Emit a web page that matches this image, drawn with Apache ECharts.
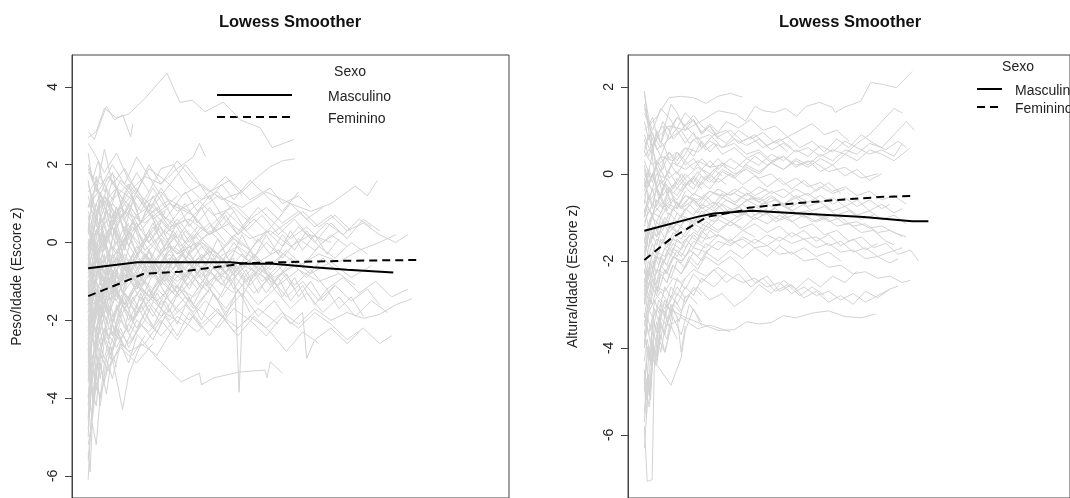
<!DOCTYPE html>
<html><head><meta charset="utf-8">
<script src="https://cdn.jsdelivr.net/npm/echarts@6/dist/echarts.min.js"></script>
<style>html,body{margin:0;padding:0;background:#fff}#c{width:1070px;height:498px}</style>
</head><body><div id="c"></div>
<script>
// ---------- DATA ----------
const chartTitle = 'Lowess Smoother';
const legendTitle = 'Sexo';
const sexos = ['Masculino', 'Feminino'];
const yTicks = [-6, -4, -2, 0, 2, 4];
const yNamePeso = 'Peso/Idade (Escore z)';
const yNameAltura = 'Altura/Idade (Escore z)';

// Lowess curves, [idade, escore z]
const pesoLowessMasc = [[0,-0.66],[12.1,-0.51],[35.1,-0.51],[39.3,-0.55],[45.7,-0.55],[55.6,-0.64],[64,-0.70],[75.4,-0.77]];
const pesoLowessFem = [[0,-1.38],[7.2,-1.08],[13.6,-0.81],[22.7,-0.75],[32.6,-0.62],[39.3,-0.53],[47.5,-0.51],[64,-0.47],[82,-0.45]];
const alturaLowessMasc = [[0,-1.31],[12.9,-0.99],[16.9,-0.91],[26.4,-0.85],[38.1,-0.91],[53.6,-0.99],[65.4,-1.09],[69.4,-1.09]];
const alturaLowessFem = [[0,-1.98],[6.6,-1.48],[15.3,-0.99],[24,-0.84],[25.4,-0.78],[34.1,-0.70],[45.9,-0.61],[58.4,-0.53],[65.2,-0.51]];

// Individual trajectories (flattened idade, escore pairs)
const pesoTrajetorias = [
[0,2.7,2,2.85,4,3.45,7,3.2,10,3.3,14,3.7,19.5,4.35,22.7,3.6,25.7,3.66,28.9,3.36,33.4,3.61,37.6,3.15,42.5,2.95,45.5,2.44,50.7,2.64],
[0,2.85,1.5,2.65,4.5,3.5,6.5,3.15,8.5,3.28,10.5,2.72,11,3.05],
[0,2.55,2,2.2,4,1.8,7,2.3,10,1.6,13,1.2,17,0.8,21,0.5],
[0,1.8,3,1.5,6,1.75,10,1.3,14,1.7,18,1.5,22,1.9,26,2.2,27.5,2.55,29,2.2],
[0,0.6,3,0.9,7,1.4,11,1.1,15,1.9,19,1.6,23,1.2,28,1.5,33,1.1,38,1.3,42,1.7,45,1.95,48,2.1,51,2.15],
[0,-0.3,4,0.2,9,0.8,14,0.5,20,1.0,26,0.7,32,1.2,38,0.9,44,1.3,50,1.0,55,0.8,60,1.0,66,1.45,69,1.2,71.5,1.6],
[0,1.3,3,1.7,6,1.1,10,1.5,14,1.0,18,1.3,22,0.8,27,1.1,31,0.7,36,0.9,40,0.5],
[0,2.0,2,1.4,5,0.9,8,1.6,12,1.2,16,0.6,20,0.9],
[0,-1.0,3,-0.2,6,0.5,9,1.2,12,1.8,15,1.3,18,1.9,21,2.0,24,1.5,28,1.1,32,1.3,36,0.8],
[0,0.2,2,1.0,5,1.7,8,1.2,12,0.7,16,1.0,20,0.4,25,0.6,30,0.2,35,0.5,40,0.1,45,0.3,50,-0.1,55,0.2,60,0.0],
[0,1.0,3,0.4,7,0.8,11,0.3,15,0.7,20,1.1,25,0.8,30,1.3,35,1.6,40,1.1,45,1.4,48,1.0,52,1.2,55,0.9],
[0,-2.0,2,-0.8,5,0.2,8,0.9,12,0.4,16,0.8,20,0.3,24,0.6,28,0.1,33,0.4,38,-0.1],
[0,-0.5,3,0.0,6,-0.4,10,0.3,14,-0.2,18,0.2,22,-0.3,27,0.0,32,-0.4,37,-0.1,42,-0.5,47,-0.2,52,-0.6,57,-0.3,62,-0.5,67,-0.2,72,0.0,76,0.2],
[0,-1.5,2,-0.9,5,-0.3,9,-0.7,13,-0.2,17,-0.6,21,-0.1,26,-0.5,31,-0.2,36,-0.7,41,-0.4,46,-0.9,51,-0.6],
[0,-3.0,2,-1.8,4,-0.9,7,-0.4,10,-0.8,14,-0.3,18,-0.7,22,-1.0,27,-0.6,32,-0.9,37,-0.5,42,-0.8,47,-1.1,52,-0.7,57,-1.0,62,-0.8,66,-1.1],
[0,-4.5,1,-3.0,3,-2.0,6,-1.4,9,-1.7,13,-1.2,17,-1.5,21,-1.1,26,-1.4,31,-0.9,36,-1.3],
[0,-5.6,1,-4.2,2.5,-2.8,5,-2.2,8,-2.5,11,-1.9,15,-2.3,19,-1.8,23,-2.1],
[0,-6.1,0.5,-5.0,1.5,-3.6,3,-2.9,5,-3.3,8,-2.6,11,-2.9,14,-2.4],
[0,-5.2,1,-4.65,2,-5.2,3,-3.9,5,-3.2,8,-2.7,12,-3.1,16,-2.6],
[0,-3.8,2,-3.2,4,-2.4,6,-3.0,8.5,-4.3,10,-3.4,13,-2.6,17,-2.9,21,-2.2],
[0,-3.5,2,-2.6,4,-3.1,7,-2.2,10,-2.6,14,-2.0,18,-2.4,22,-1.9,27,-2.3,32,-1.8,37,-2.2,42,-1.7,47,-2.1],
[0,-2.2,3,-2.6,6,-2.3,10,-2.8,14,-2.6,17,-2.98,23,-3.58,27.5,-3.36,28,-3.66,31,-3.48,37.5,-3.33,43.7,-3.28,44.2,-3.48,45,-3.07,48,-3.36],
[0,-1.2,4,-0.6,8,-1.0,12,-0.5,16,-0.9,20,-0.4,24,-0.8,28,-0.3,32,-0.7,36,-0.4,37.3,-3.85,38.5,-0.9,42,-0.5,46,-1.0,50,-0.6],
[0,-2.5,2,-1.6,5,-1.0,8,-1.4,12,-0.8,16,-1.2,20,-0.7,25,-1.1,30,-0.6,35,-1.0,40,-0.5,45,-0.9,50,-0.4,55,-0.8,60,-0.5,65,-0.9,70,-0.6],
[0,0.0,3,-0.6,6,-0.1,10,-0.5,14,0.1,18,-0.3,22,0.2,26,-0.2,30,0.3,34,-0.1,38,0.4,42,0.0,46,0.5,50,0.1,54,0.4,58,0.0,62,0.3],
[0,0.8,2,0.2,5,0.6,8,-0.1,11,0.4,15,-0.2,19,0.3,23,-0.1,27,0.4],
[0,-0.8,2,0.3,4,0.9,7,0.4,10,1.0,13,0.5,17,0.9,21,0.4,25,0.8,29,0.3,33,0.7,37,0.2,41,0.6,45,0.2,49,0.5,53,0.8,57,0.4,61,0.7,65,0.3],
[0,-1.8,1,-1.0,3,-0.4,6,-0.9,9,-0.3,12,-0.8,15,-0.2,19,-0.7,23,-0.3,27,-0.8,31,-0.4,35,-0.9,39,-0.5,43,-1.0,47,-0.6,51,-1.1,55,-0.7,59,-1.2,63,-0.9,67,-1.3,71,-1.0,75,-1.4,79,-1.2],
[0,-2.8,1,-1.5,3,-1.9,6,-1.2,9,-1.6,12,-1.1,16,-1.5,20,-1.9,24,-1.4,28,-1.8,32,-2.2,36,-1.7,40,-2.0,44,-2.4,48,-1.9,52,-2.2,56,-1.8,60,-2.1,64,-2.5,68,-2.2,72,-2.6,75,-2.4],
[0,-1.0,4,-1.6,8,-1.2,12,-1.8,16,-1.4,20,-2.0,24,-1.6,28,-2.1,32,-1.7,36,-2.3,40,-1.9,44,-2.2,48,-1.8,52,-2.1,56,-1.7,60,-2.0,64,-1.8,68,-1.95,72,-1.85,76,-1.6,80,-1.45],
[0,-2.0,2,-2.8,4,-2.2,7,-2.7,10,-2.1,14,-2.6,18,-2.0,22,-2.5,26,-1.9,30,-2.4,34,-1.8],
[0,-4.0,1,-2.5,3,-1.2,6,-0.6,9,-1.0,12,-0.4,16,-0.8,20,-0.3,24,-0.7],
[0,-3.2,1.5,-2.0,3,-1.4,6,-1.9,9,-1.3,13,-1.8,17,-1.2,21,-1.6,25,-2.0,29,-1.5,33,-1.9,37,-2.4,41,-1.9,45,-2.3,49,-2.8,53,-2.3,57,-2.6],
[0,-1.4,3,-0.8,6,-1.3,9,-0.7,13,-1.1,17,-0.6,21,-1.0,25,-0.5,29,-0.9,33,-0.4,37,-0.8,41,-0.3,45,-0.7,49,-0.2,53,-0.6,57,-0.1,61,-0.4,65,0.0,69,-0.3],
[0,0.4,2,-0.3,5,0.3,8,-0.2,11,0.5,14,0.0,18,0.6,22,0.1,26,0.7,30,0.2,34,0.8,38,0.4,42,0.9,46,0.5,50,1.0,54,0.6,58,0.9],
[0,-0.2,2,0.6,4,1.2,7,0.7,10,1.3,13,0.8,16,1.4,19,0.9,22,1.2],
[0,1.5,2,0.8,4,1.2,7,0.5,10,0.9,13,0.3,16,0.7,19,0.2,22,0.6,26,0.1,30,0.5,34,0.0],
[0,-0.6,2,-1.3,4,-0.7,7,-1.2,10,-0.6,13,-1.1,16,-0.5,20,-1.0,24,-0.4,28,-0.9,32,-0.3,36,-0.8,40,-0.2,44,-0.7,48,-0.3],
[0,-2.3,1,-1.2,3,-0.5,5,-1.0,8,-0.4,11,-0.9,14,-0.3,17,-0.8,20,-0.2,24,-0.7,28,-0.1,32,-0.6,36,-0.2,40,-0.5,44,0.0,48,-0.4,52,0.1,56,-0.2,60,0.2,64,-0.1],
[0,-1.1,2,-0.4,4,0.2,7,-0.3,10,0.3,13,-0.2,16,0.4,19,-0.1,22,0.5,25,0.0,28,0.4],
[0,-3.6,1,-2.3,3,-1.6,5,-2.1,8,-1.5,11,-2.0,14,-1.4,18,-1.9,22,-1.3,26,-1.8,30,-1.2,34,-1.7,38,-1.1,42,-1.6,46,-1.2,50,-1.7,54,-1.3,58,-1.8,62,-1.4,66,-1.9,70,-1.5,74,-1.8],
[0,-4.8,0.8,-3.8,2,-2.6,4,-1.9,6,-2.4,9,-1.7,12,-2.2,15,-1.6,18,-2.1],
[0,-2.6,1,-3.4,2.5,-2.4,4,-3.0,6,-2.1,9,-2.7,12,-2.0],
[0,-1.7,2,-2.3,4,-1.5,6,-2.0,9,-1.3,12,-1.9,15,-1.2,18,-1.7,21,-1.0,25,-1.5,29,-0.9,33,-1.4,37,-0.8,41,-1.3,45,-0.9,49,-1.4,53,-1.0,57,-1.5,61,-1.1,65,-1.5,69,-1.2,72,-1.6],
[0,0.1,1.5,-0.7,3,-0.1,5,-0.8,7,-0.2,9,-0.9,12,-0.3,15,-0.8,18,-0.2,21,-0.7,24,-0.1,27,-0.6,30,-0.2,33,-0.7,36,-0.3],
[0,0.9,2,1.5,4,0.9,6,1.6,9,1.0,12,1.4,15,0.8,18,1.2,21,0.6,24,1.0,27,0.5,30,0.9,33,0.4,36,0.8,39,0.3,43,0.7,47,0.2,51,0.6,55,0.1,59,0.5,63,0.2,67,0.6,70,0.4],
[0,-0.4,1,-1.3,2.5,-0.6,4,-1.5,6,-0.8,8,-1.6,10,-0.9,13,-1.5,16,-0.8,19,-1.3,22,-0.7,25,-1.2,28,-0.6],
[0,-1.9,2,-1.2,4,-1.8,6,-1.1,9,-1.6,12,-1.0,15,-1.4,18,-0.8,22,-1.3,26,-0.7,30,-1.2,34,-0.6,38,-1.1,42,-0.6,46,-1.0,50,-0.5,54,-0.9,58,-0.4,62,-0.8],
[0,-5.0,0.5,-4.0,1,-3.2,2,-2.2,3.5,-1.5,5,-1.9,7,-1.3,9,-1.7,12,-1.1,15,-1.5,18,-1.0,22,-1.4,26,-0.9,30,-1.3],
[0,-3.3,1,-2.9,2,-3.8,3,-3.1,4.5,-3.9,6,-2.8,8,-2.2,10,-2.7,13,-2.1,16,-2.5,19,-1.9,22,-2.4,25,-1.8,28,-2.2],
[0,-2.1,3,-1.4,6,-0.6,9,0.1,12,-0.4,15,0.2,18,-0.3,21,0.3,24,-0.2,27,0.2],
[0,-0.9,2,-0.1,4,0.5,6,-0.2,9,0.4,12,-0.3,15,0.3,18,-0.2,21,0.2,24,-0.4,28,0.1,32,-0.3,36,0.2,40,-0.2,44,0.3,48,-0.1,52,0.4,56,0.0,60,0.5,64,0.1,68,0.6,72,0.3],
[0,1.2,1.5,0.5,3,1.1,5,0.4,7,0.9,9,0.2,12,0.7,15,0.0,18,0.5],
[0,-1.3,1.5,-2.0,3,-1.2,5,-1.8,7,-1.0,10,-1.5,13,-0.9,16,-1.4,19,-0.8,22,-1.3,25,-0.7,28,-1.2,31,-0.6,34,-1.1,37,-0.5,40,-1.0,43,-0.6,46,-1.2,49,-0.8,52,-1.4,55,-1.0,58,-1.5,61,-1.1],
[0,-2.7,1,-3.8,2,-4.2,3,-3.0,4,-2.2,6,-2.8,8,-2.0,11,-2.5,14,-1.8,17,-2.3,20,-1.7],
[0,-0.1,3,0.5,6,1.0,9,0.6,12,1.2,15,0.8,18,1.4,21,0.9,24,1.3,27,0.8,30,1.2,33,0.7,36,1.0,40,0.6,44,0.9,48,0.5,52,0.8,56,0.4,60,0.7,64,0.3,68,0.5,72,0.2,76,0.0,79,0.2],
[0,-3.9,1,-4.5,2,-3.3,3,-4.2,4.5,-3.0,6,-3.5,8,-2.6,10,-3.1,12,-2.4],
[0,-1.6,1.5,-0.8,3,-1.5,5,-0.7,7,-1.3,9,-0.6,12,-1.2,15,-0.5,18,-1.1,21,-0.4,24,-1.0,27,-0.5,30,-1.1,33,-0.6,36,-1.2,39,-0.7,42,-1.3,45,-0.8,48,-1.4,51,-0.9,54,-1.5],
[0,0.5,1.5,-0.2,3,0.7,5,0.1,7,0.9,9,0.3,11,1.1,13,0.5,16,1.2,19,0.6,22,1.0,25,0.4,28,0.9,31,0.3,34,0.7,37,0.2,40,0.6],
[0,-2.4,1,-1.7,2,-2.6,3.5,-1.8,5,-2.5,7,-1.6,9,-2.2,11,-1.4,14,-2.0,17,-1.3,20,-1.8,23,-1.1,26,-1.6,29,-1.0,32,-1.5,35,-0.9,38,-1.4,41,-0.8,44,-1.3,47,-0.9,50,-1.5,53,-1.1,56,-1.6,59,-1.2,62,-1.7,65,-1.4,68,-1.9],
[0,-1.2,3,-1.8,6,-1.1,10,-1.7,14,-1.0,18,-1.6,22,-1.1,26,-1.7,30,-1.2,34,-1.8,38,-1.3,42,-1.9,46,-1.5,50,-2.1,53,-1.8,54,-2.98,56,-2.5,60,-2.2,64,-2.6,67,-2.3],
[0,-0.7,1,0.2,2,-0.5,3.5,0.4,5,-0.3,7,0.5,9,-0.2,11,0.6,13,-0.1,16,0.5,19,-0.2,22,0.3],
[0,-4.2,0.5,-3.5,1.5,-4.0,2.5,-3.0,4,-3.6,5.5,-2.7,7,-3.2],
[0,-5.4,0.5,-5.9,1,-4.6,2,-3.6,3,-4.0,4,-3.1],
[0,-1.0,1,-2.1,2,-1.4,3,-2.3,4.5,-1.6,6,-2.4,8,-1.7,10,-2.3,13,-1.6,16,-2.2,19,-1.5,22,-2.1,25,-1.4,28,-2.0,31,-1.3,34,-1.9,37,-1.2,40,-1.8],
[0,0.3,1,1.1,2,0.4,3,1.3,5,0.6,7,1.4,9,0.7,11,1.2,13,0.5,15,1.0,17,0.3,19,0.8],
[0,2.3,1,1.6,2.5,2.1,4,1.3,6,1.8,8,1.0,10,1.5,12,0.8,15,1.3],
[0,-0.3,1,-1.0,2,-0.2,3,-1.1,4,-0.3,5.5,-1.2,7,-0.4,9,-1.0,11,-0.3,13,-0.9,15,-0.2,17,-0.8,20,-0.1,23,-0.7,26,0.0,29,-0.6,32,0.1,35,-0.5,38,0.2,41,-0.4,44,0.2,47,-0.3,50,0.3,53,-0.2,56,0.2,59,-0.3,62,0.1],
[0,-0.2,1,0.5,2,-0.3,3,0.6,4,-0.1,6,0.7,8,0.0,10,0.5],
[0,0.7,1,-0.1,2,0.8,3,0.0,4.5,0.9,6,0.1,8,0.6,10,-0.1,12,0.4,14,-0.2],
[0,-1.5,0.8,-0.6,1.6,-1.4,2.5,-0.5,3.5,-1.3,5,-0.4,6.5,-1.1,8,-0.3,10,-0.9],
[0,-2.9,0.8,-2.1,1.6,-2.8,2.5,-1.9,3.5,-2.6,5,-1.7,6.5,-2.3,8,-1.5],
[0,-3.4,1,-2.4,2,-3.0,3,-1.9,4,-2.5,5.5,-1.6,7,-2.2,9,-1.4,11,-2.0,13,-1.3,15,-1.8],
[0,-1.8,1,-0.9,2,0.0,3,-0.8,4,0.2,5.5,-0.6,7,0.3,9,-0.5,11,0.2],
[0,1.6,1,0.9,2,1.7,3,0.7,4.5,1.4,6,0.4,8,1.0,10,0.2],
[0,-4.6,0.6,-3.4,1.2,-4.1,2,-2.9,3,-3.5,4,-2.5,5.5,-3.0,7,-2.2,9,-2.7],
[0,-2.2,0.7,-1.3,1.5,-2.0,2.3,-1.1,3.2,-1.8,4.2,-0.9,5.5,-1.5,7,-0.7,8.5,-1.3,10,-0.6,12,-1.1],
[0,0.0,0.8,-0.9,1.6,0.1,2.5,-0.7,3.5,0.3,5,-0.5,6.5,0.4,8,-0.4,10,0.3,12,-0.3],
[0,0.9,3,1.4,6,2.0,9,1.5,12,2.2,15,1.7,18,1.2,21,1.6,24,2.0,27,1.6,30,1.1,33,1.5,36,1.1,40,1.6,44,1.2,48,0.8,52,1.3],
[0,1.9,2,1.3,4,2.4,6,1.5,9,1.9,12,1.3,15,2.0,18,1.5,22,2.1,26,1.6,30,1.3,34,1.7,38,1.2],
[0,-0.9,2,-0.5,4,-0.8,7,-0.4,10,-0.6,13,-0.2,16,-0.5,20,-0.1,24,-0.4,28,0.0,32,-0.3,36,0.1,40,-0.2],
[0,-1.3,2,-0.6,4,-1.0,6,-0.3,9,-0.7,12,-0.1,15,-0.5,18,0.1,22,-0.3,26,0.2,30,-0.2],
[0,-2.0,1.5,-1.3,3,-1.7,5,-0.9,7,-1.4,10,-0.8,13,-1.2,16,-0.6,19,-1.0,22,-0.5,26,-0.9,30,-0.4,34,-0.8,38,-0.3,42,-0.7],
[0,-0.4,2,0.3,4,-0.2,6,0.4,9,-0.1,12,0.5,15,0.0,18,0.4,21,-0.2,24,0.3,27,-0.1],
[0,-2.6,1,-1.9,2,-2.3,3.5,-1.5,5,-1.9,7,-1.2,9,-1.6,12,-1.0,15,-1.4,18,-0.9,21,-1.3,24,-0.8,27,-1.2,30,-0.7,33,-1.1,36,-0.6,39,-1.0,42,-0.7,45,-1.1,48,-0.8,51,-1.2],
[0,-3.1,1,-2.2,2,-1.5,3.5,-1.9,5,-1.1,7,-1.5,9,-0.8,12,-1.2,15,-0.6,18,-1.0,21,-0.5,24,-0.9,27,-0.4],
[0,0.3,2,-0.4,4,0.1,6,-0.6,9,-0.1,12,-0.7,15,-0.2,18,-0.8,21,-0.3,24,-0.9,28,-0.4,32,-1.0,36,-0.5,40,-1.1,44,-0.6],
[0,-1.6,2,-1.0,4,-1.4,6,-0.7,9,-1.1,12,-0.5,15,-0.9,18,-0.3,21,-0.7,24,-0.2,27,-0.6,30,-0.1,33,-0.5,36,0.0,39,-0.4,42,0.1,45,-0.3,48,0.2,51,-0.2,54,0.3,57,-0.1],
[0,-0.6,1,0.4,2,1.0,3.5,0.5,5,1.1,7,0.6,9,1.0,12,0.4,15,0.8,18,0.2,21,0.6,24,0.0],
[0,-1.1,1,-1.9,2,-1.3,3,-2.0,4.5,-1.4,6,-2.1,8,-1.5,10,-2.0,13,-1.4,16,-1.9,19,-1.3,22,-1.8],
[0,-0.1,1,-0.8,2,-0.2,3.5,-1.0,5,-0.4,7,-1.1,9,-0.5,12,-1.0,15,-0.4,18,-0.9,21,-0.3],
[0,-2.3,0.7,-1.6,1.4,-2.1,2.2,-1.3,3,-1.8,4,-1.0,5.5,-1.5,7,-0.8,8.5,-1.3,10,-0.7]
];

const alturaTrajetorias = [
[0,0.4,3,0.8,6,1.1,10,1.0,14.6,1.25,18,1.45,22.4,1.37,24.7,1.21,27.1,1.55,29,1.45,31.8,1.41,34.5,1.5,37.2,1.32,39.5,1.55,42.8,1.64,45.9,1.53,46.6,1.41,48.9,1.53,52.9,1.67,55.3,2.1,58.4,2.05,61.6,1.98,65.4,2.35],
[0,1.0,3,1.3,6,1.75,9,1.78,12,1.75,15,1.62,18,1.78,21,1.85,24,1.76],
[0,1.87,1,1.3,2,0.6,3,0.1,4.5,-0.5,6,-0.3,8,-0.8,10,-0.4],
[0,1.4,2,0.9,4,0.6,6,0.8,9,1.0,12,1.35,14,1.1,17,0.9,20,1.0,23,0.7,26,0.85,29,0.6,32,0.75,35,0.5],
[0,0.5,2,0.2,4,0.4,6,0.9,8,1.3,10,1.1,13,0.8,16,0.9,19,0.6,22,0.7,25,0.45,28,0.55,31,0.3,34,0.4,37,0.2,41,0.3,45,0.05,49,0.15,53,-0.1,57,0.0],
[0,-0.5,2,0.0,4,0.4,7,0.3,10,0.6,13,0.5,16,0.75,19,0.6,22,0.8,25,0.65,28,0.8,31,0.55,34,0.7,37,0.5,40,0.6,43,0.4,46,0.55,49,0.45,52,0.7,55,0.9,58,1.2,61,1.5,63,1.4],
[0,0.0,2,-0.4,4,-0.2,7,-0.45,10,-0.1,13,0.15,16,0.0,19,0.25,22,0.1,25,0.35,28,0.2,31,0.45,34,0.3,37,0.55,40,0.4,43,0.65,46,0.5,49,0.75,52,0.6,55,0.45,58,0.55,61,0.4,63,0.7],
[0,-1.0,1.5,-0.5,3,0.0,5,-0.1,7,0.25,10,0.1,13,0.3,16,0.15,19,0.2,22,0.0,25,0.1,28,-0.1,31,0.0,34,-0.25,37,-0.1,40,-0.3,43,-0.2,46,-0.4,49,-0.3,52,-0.5,55,-0.4,58,-0.6,61,-0.5,64,-0.7],
[0,-1.5,1.5,-1.0,3,-1.1,5,-0.7,7,-0.85,10,-0.5,13,-0.65,16,-0.4,19,-0.55,22,-0.35,25,-0.5,28,-0.3,31,-0.45,34,-0.35,37,-0.55,40,-0.45,43,-0.65,46,-0.55,49,-0.75,52,-0.6,55,-0.85,58,-0.7,61,-0.9,63,-0.8],
[0,-2.0,1,-1.4,2,-0.9,4,-1.0,6,-0.7,8,-0.8,10,-0.5,13,-0.6,16,-0.4,19,-0.5,22,-0.45,25,-0.6,28,-0.55,31,-0.75,34,-0.7,37,-0.9,40,-0.85,43,-1.0,46,-0.95,49,-1.15,52,-1.1,55,-1.25,58,-1.2,61,-1.35,64,-1.45],
[0,-2.5,1,-2.0,2,-2.2,3,-1.8,5,-1.9,7,-1.5,9,-1.6,12,-1.35,15,-1.5,18,-1.4,21,-1.6,24,-1.5,27,-1.7,30,-1.65,33,-1.85,36,-1.8,39,-2.0,42,-1.95,45,-2.15,48,-2.1,51,-2.3,54,-2.25,57,-2.4,60,-2.35,63,-2.5,65,-2.45],
[0,-3.0,1,-2.5,2,-2.6,3,-2.2,5,-2.3,7,-1.9,9,-2.0,12,-1.7,15,-1.8,18,-1.55,21,-1.65,24,-1.45,27,-1.6,30,-1.4,33,-1.55,36,-1.35,39,-1.5,42,-1.45,45,-1.65,48,-1.55,51,-1.8,54,-1.7,57,-1.9,60,-1.8,63,-1.7],
[0,-3.5,1,-2.9,2,-3.0,3,-2.6,5,-2.7,7,-2.4,9,-2.5,12,-2.2,15,-2.35,18,-2.15,21,-2.35,24,-2.5,27,-2.4,30,-2.6,33,-2.5,36,-2.75,39,-2.6,42,-2.8,45,-2.7,48,-2.9,51,-2.75,54,-2.95,57,-2.8,60,-2.65],
[0,-2.2,3,-2.8,6,-3.1,10,-3.3,14,-3.45,18,-3.6,22,-3.58,25,-3.4,28,-3.45,31,-3.42,34,-3.26,37,-3.31,41,-3.2,45,-3.15,49,-3.28,53,-3.31,56.5,-3.22],
[0,-2.9,2,-3.3,4,-3.0,6,-3.5,9,-3.3,13,-3.56,16,-3.48,21,-3.63],
[0,-4.0,0.7,-3.5,1.5,-3.9,2.5,-3.1,3.5,-3.4,5,-2.9,6.5,-3.15,8,-2.75,10,-2.95,12,-2.6,14,-2.8],
[0,-4.5,0.5,-5.2,1,-4.2,2,-3.6,3,-3.9,4,-3.3,5.5,-3.5,7,-3.0,9,-3.2],
[0,-5.8,0.7,-7.07,1.9,-7.03,2.4,-4.5,3.5,-3.8,5,-4.1,7,-3.3,9,-3.7,11,-3.0,14,-3.4],
[0,-3.8,1.5,-4.2,3.5,-4.45,6.5,-4.86,9,-4.22,10,-3.6,12,-3.1,14,-3.5],
[0,-5.7,0.5,-5.0,1.2,-5.36,2,-4.4,3,-3.7,4,-4.1,5.5,-3.3],
[0,-4.8,0.8,-4.0,1.6,-4.4,2.5,-3.4,3.5,-2.9,5,-3.1,6.5,-2.6,8,-2.8,10,-2.4],
[0,-3.2,1,-3.7,2,-3.3,3,-3.6,4,-3.1,5,-3.3,6.5,-2.8,8,-3.0,10,-2.6,12,-2.8,14,-2.4,17,-2.6,20,-2.3],
[0,-2.8,1,-2.2,2,-2.4,3,-1.9,4.5,-2.1,6,-1.7,8,-1.9,10,-1.5,12,-1.7,14,-1.3,16,-1.5],
[0,-1.8,1,-1.3,2,-1.5,3,-1.1,4.5,-1.3,6,-0.9,8,-1.1,10,-0.8,12,-0.95,14,-0.7,17,-0.85,20,-0.6,23,-0.75,26,-0.55,29,-0.7,32,-0.6,35,-0.8,38,-0.65,41,-0.85,44,-0.75,47,-0.95,50,-0.85,53,-1.05,56,-0.95],
[0,-1.2,1,-0.8,2,-1.0,3,-0.6,4.5,-0.8,6,-0.4,8,-0.6,10,-0.3,12,-0.5,14,-0.2,16,-0.35,18,-0.1,20,-0.25],
[0,-0.3,1,0.1,2,-0.1,3,0.3,4.5,0.1,6,0.5,8,0.3,10,0.6,12,0.4,14,0.75,16,0.5,18,0.7],
[0,0.8,1,0.4,2,0.6,3,0.2,4.5,0.3,6,-0.1,8,0.05,10,-0.25,12,-0.1,14,-0.35],
[0,-0.8,1,-1.2,2,-0.95,3,-1.3,4.5,-1.1,6,-1.35,8,-1.15,10,-1.3,12,-1.05,15,-1.2,18,-0.95,21,-1.1,24,-0.9,27,-1.05,30,-0.9,33,-1.05,36,-0.85,39,-1.0,42,-0.9,45,-1.1,48,-1.0,51,-1.2,54,-1.15,57,-1.35,60,-1.3,63,-1.44],
[0,-2.2,1,-2.6,2,-2.2,3,-2.5,4,-2.1,5.5,-2.3,7,-1.9,9,-2.05,11,-1.75,13,-1.9,15,-1.6,18,-1.75,21,-1.5,24,-1.7,27,-1.5,30,-1.65,33,-1.45,36,-1.6,39,-1.5,42,-1.7,45,-1.6,48,-1.8,51,-1.75,54,-1.95,57,-1.9,60,-2.05,62,-1.95],
[0,-3.9,0.8,-3.3,1.6,-3.6,2.5,-2.9,3.5,-3.2,5,-2.6,6.5,-2.85,8,-2.4,10,-2.65,12,-2.3,14,-2.5,17,-2.2,20,-2.5,23,-2.3,26,-2.6,29,-2.4,32,-2.7,35,-2.55,38,-2.8,41,-2.6,44,-2.8],
[0,-6.3,0.5,-5.6,1,-4.8,1.5,-5.2,2,-4.0,3,-3.4,4,-3.8,5.5,-3.0,7,-3.3],
[0,-5.0,0.5,-4.3,1,-4.9,1.8,-3.8,2.6,-4.4,3.5,-3.3,5,-3.7,6.5,-3.0,8,-3.3,9,-4.1,10,-3.5],
[0,-2.6,1.5,-2.0,3,-1.5,4.5,-1.6,6,-1.2,8,-1.35,10,-1.0,12,-1.15,14,-0.85,16,-1.0,19,-0.7,22,-0.85,25,-0.6,28,-0.75,31,-0.55,34,-0.7,37,-0.5,40,-0.65,43,-0.5,46,-0.7,49,-0.55,52,-0.75,55,-0.6,58,-0.8,60,-0.7],
[0,0.2,1,-0.2,2,0.0,3,-0.35,4,-0.15,5.5,-0.45,7,-0.25,9,-0.4,11,-0.15,13,-0.3,15,-0.05,17,-0.2,19,0.05,22,-0.1,25,0.15,28,0.0,31,0.25,34,0.1,37,0.35,40,0.2,43,0.45,46,0.3,49,0.55,52,0.45,55,0.7,58,0.6,61,0.9,64,1.2,66,1.0],
[0,1.2,1,0.8,2,0.95,3,0.55,4.5,0.7,6,0.35,8,0.5,10,0.2,12,0.35,14,0.1,16,0.3,18,0.1,21,0.35,24,0.15,27,0.4,30,0.2,33,0.4],
[0,1.6,1,1.1,2,1.3,3,0.9,4.5,1.1,6,0.8,8,1.05,10,1.4,12,1.2,14,0.95,16,1.15,18,0.95,20,1.2,23,1.05,26,1.25,29,1.0,32,1.1,35,0.85,38,1.0,41,1.15,44,0.9,47,1.0,50,0.75],
[0,-0.6,2,-0.95,4,-0.7,6,-0.95,8,-0.65,10,-0.85,12,-0.6,14,-0.8,17,-0.65,20,-0.9,23,-0.75,26,-1.0,29,-0.85,32,-1.1,35,-1.0,38,-1.25,41,-1.15,44,-1.4,47,-1.3,50,-1.55,53,-1.45,56,-1.7,59,-1.6,62,-1.85,65,-1.75,67,-2.0],
[0,-1.5,1,-1.9,2,-1.6,3,-1.85,4,-1.5,5.5,-1.7,7,-1.35,9,-1.5,11,-1.2,13,-1.35,15,-1.1,18,-1.3,21,-1.1,24,-1.3,27,-1.15,30,-1.35,33,-1.2,36,-1.45,39,-1.3,42,-1.55,45,-1.4,48,-1.65,51,-1.5,54,-1.75,57,-1.6],
[0,-2.0,1,-2.4,2,-2.0,3,-2.3,4,-1.9,5.5,-2.1,7,-1.7,9,-1.9,11,-1.55],
[0,-1.0,1,-0.5,2,-0.8,3,-0.3,4,-0.55,5.5,-0.1,7,-0.35,9,0.0,11,-0.25,13,0.05,15,-0.15,17,0.1,19,-0.05],
[0,0.5,1,0.9,2,0.6,3,1.0,4,0.7,5.5,1.1,7,0.8,9,1.0,11,0.7,13,0.85,15,0.55,17,0.7,19,0.45,22,0.6,25,0.35,28,0.5,31,0.25,34,0.4,37,0.15,40,0.3,43,0.05,46,0.2,49,-0.05,52,0.1,55,-0.15,58,0.0],
[0,-0.1,1,-0.6,2,-0.35,3,-0.75,4,-0.5,5.5,-0.85,7,-0.6,9,-0.8,11,-0.55,13,-0.75,15,-0.5,17,-0.7,19,-0.45,22,-0.65,25,-0.45,28,-0.65,31,-0.5,34,-0.7,37,-0.55,40,-0.75,43,-0.65,46,-0.85,49,-0.75,52,-0.95,55,-0.85,58,-1.05,61,-0.95,64,-1.15],
[0,-3.3,0.8,-2.8,1.6,-3.0,2.5,-2.5,3.5,-2.7,5,-2.2,6.5,-2.4,8,-2.0,10,-2.15,12,-1.8,14,-2.0,16,-1.7],
[0,-4.3,0.7,-3.8,1.4,-4.2,2.2,-3.4,3.2,-3.7,4.5,-3.1,6,-3.35,7.5,-2.9,9,-3.15,11,-2.8,13,-3.0],
[0,-3.6,1,-4.3,2,-3.9,3,-4.4,4,-3.7,5,-4.1,6.5,-3.5,8,-3.8],
[0,-2.4,1,-2.8,2,-2.4,3,-2.7,4,-2.3,5.5,-2.5,7,-2.1,9,-2.3,11,-2.0,13,-2.2,15,-1.9,18,-2.1,21,-1.9,24,-2.15,27,-2.5,30,-2.35,33,-2.7,36,-2.55,39,-2.85,42,-2.7,45,-2.95,48,-2.8,51,-3.0,54,-2.7,57,-2.85,60,-2.65,62,-2.58],
[0,-1.6,1.5,-1.1,3,-0.6,4.5,-0.7,6,-0.35,8,-0.5,10,-0.2,12,-0.35,14,-0.05,16,-0.2,19,0.1,22,-0.05,25,0.2,28,0.05,31,0.25,34,0.1,37,0.3,40,0.15,43,0.35,46,0.2,49,0.45,52,0.3,55,0.55,58,0.45,61,0.3,65,0.6],
[0,0.9,1.5,0.5,3,0.8,4.5,1.2,6,1.0,8,1.3,10,1.1,12,1.25,14,0.95,16,1.1,18,0.85,21,1.0,24,0.75,27,0.9,30,0.65,33,0.8,36,0.6],
[0,-0.4,1,0.0,2,-0.2,3,0.25,4,0.05,5,0.4,6.5,0.2,8,0.5,10,0.3,12,0.6],
[0,-1.3,1,-1.7,2,-1.4,3,-1.65,4,-1.3,5,-1.5,6.5,-1.15,8,-1.35,10,-1.05,12,-1.2,14,-0.95,17,-1.1,20,-0.85,23,-1.0,26,-0.8,29,-0.95,32,-0.8,35,-1.0,38,-0.9,41,-1.1,44,-1.0,47,-1.2,50,-1.15,53,-1.35,56,-1.3,59,-1.55,61,-1.63],
[0,-1.9,0.8,-1.4,1.6,-1.6,2.5,-1.2,3.5,-1.4,5,-1.0,6.5,-1.2,8,-0.9,10,-1.1],
[0,-2.7,0.8,-2.2,1.6,-2.4,2.5,-1.9,3.5,-2.1,5,-1.7,6.5,-1.9,8,-1.5,10,-1.7,12,-1.4,14,-1.6,16,-1.3,18,-1.45],
[0,-4.0,1,-3.2,2,-2.6,3,-2.8,4,-2.3,5.5,-2.5,7,-2.1,9,-2.3,11,-1.9,13,-2.1,15,-1.8,18,-2.0,21,-1.75,24,-1.95,27,-1.7,30,-1.9,33,-1.65,36,-1.85,39,-1.7,42,-1.9,45,-1.8,48,-2.0],
[0,0.1,1,-0.3,2,0.0,3,-0.25,4,0.1,5,-0.1,6.5,0.2,8,0.0,10,0.3,12,0.1,14,0.35,16,0.15,18,0.35,20,0.15],
[0,-0.9,1,-0.5,2,-0.7,3,-0.3,4,-0.5,5,-0.2,6.5,-0.4,8,-0.1,10,-0.3,12,-0.05,14,-0.25,16,0.0,18,-0.2,21,0.0,24,-0.25,27,-0.05,30,-0.3,33,-0.1,36,-0.35,39,-0.15,42,-0.4,45,-0.2,48,-0.45],
[0,-3.0,1.5,-2.4,3,-1.9,5,-2.0,7,-1.6,9,-1.75,11,-1.4,13,-1.55,15,-1.2,18,-1.35,21,-1.1,24,-1.25,27,-1.0,30,-1.15,33,-0.95,36,-1.1,39,-0.95,42,-1.1,45,-1.0],
[0,-5.5,0.6,-4.7,1.2,-5.1,2,-4.0,3,-4.3,4,-3.5,5.5,-3.8,7,-3.1,8.5,-3.4,10,-2.8],
[0,-4.7,0.5,-5.6,1,-4.6,1.5,-5.0,2.2,-3.9,3,-4.2,4,-3.4,5,-3.7],
[0,-3.4,2,-3.0,4,-2.7,6,-3.0,8,-2.6,10,-2.85,13,-2.6,16,-2.9,19,-2.75,22,-3.05,25,-2.85,28,-2.55,31,-2.75,34,-2.45,37,-2.65,40,-2.4,43,-2.6,46,-2.35,49,-2.5,52,-2.24],
[0,0.3,1.5,-0.1,3,0.15,4.5,-0.2,6,0.05,8,-0.25,10,0.0,12,-0.2,14,0.1,16,-0.1,18,0.15],
[0,1.9,0.8,1.2,1.6,0.6,2.5,0.0,3.5,-0.6,5,-0.2,6.5,-0.7],
[0,1.5,2,1.0,4,1.5,6,1.3,8,1.0,10,0.7,12,0.95,14,0.6],
[0,-0.7,1,0.0,2,0.5,3,0.9,4,0.7,5,1.1,6.5,1.6,8,1.4,10,1.0,12,1.25,14,0.9,16,1.1,18,0.8],
[0,0.6,1.5,0.9,3,0.6,4.5,0.3,6,0.5,8,0.2,10,0.45,12,0.8,14,0.6,17,0.9,20,0.7,23,1.0,26,0.8,29,0.95,32,0.7,35,0.85,38,0.6,41,0.75,44,0.5,47,0.8,50,0.6,53,0.9,56,0.7,59,0.55,62,0.75,64,0.6],
[0,-2.3,1,-1.7,2,-1.2,3,-1.45,4,-1.0,5.5,-1.2,7,-0.8,9,-1.0,11,-0.7,13,-0.9,15,-0.6,17,-0.8,19,-0.55,22,-0.7,25,-0.45,28,-0.6,31,-0.4,34,-0.55,37,-0.35,40,-0.5,43,-0.3,46,-0.45,49,-0.35],
[0,-1.1,2,-0.7,4,-0.9,6,-0.55,9,-0.75,12,-0.45,15,-0.6,18,-0.35,21,-0.5,24,-0.3,27,-0.5,30,-0.35],
[0,-1.7,1.5,-1.3,3,-1.45,5,-1.1,7,-1.25,9,-0.95,12,-1.1,15,-0.85,18,-1.0,21,-0.8,24,-0.95,27,-0.75,30,-0.9,33,-0.7,36,-0.85,39,-0.7],
[0,-0.2,1.5,-0.6,3,-0.4,5,-0.75,7,-0.55,9,-0.8,12,-0.6,15,-0.85,18,-0.65,21,-0.9,24,-0.7,27,-0.95,30,-0.8],
[0,-2.9,1,-2.3,2,-1.8,3,-1.95,4.5,-1.5,6,-1.65,8,-1.3,10,-1.45,12,-1.15,15,-1.3,18,-1.05,21,-1.2,24,-1.0],
[0,-3.7,1,-3.0,2,-2.4,3,-2.55,4.5,-2.0,6,-2.15,8,-1.75,10,-1.9,12,-1.55,15,-1.7,18,-1.4,21,-1.55,24,-1.3,27,-1.45]
];

// ---------- CHART ----------
const FONT = '"Liberation Sans", Arial, Helvetica, sans-serif';
const chart = echarts.init(document.getElementById('c'), null, {renderer: 'canvas'});

function pairs(flat) { const out = []; for (let i = 0; i < flat.length; i += 2) out.push([flat[i], flat[i + 1]]); return out; }

const series = [];
function addPanel(trajs, masc, fem, idx) {
  trajs.forEach(t => series.push({
    type: 'line', xAxisIndex: idx, yAxisIndex: idx, data: pairs(t),
    showSymbol: false, symbol: 'none', silent: true, z: 1,
    lineStyle: {color: '#d3d3d3', width: 1}
  }));
  series.push({type: 'line', name: sexos[0], xAxisIndex: idx, yAxisIndex: idx, data: masc,
    showSymbol: false, symbol: 'none', silent: true, z: 3, lineStyle: {color: '#000', width: 2}});
  series.push({type: 'line', name: sexos[1], xAxisIndex: idx, yAxisIndex: idx, data: fem,
    showSymbol: false, symbol: 'none', silent: true, z: 3, lineStyle: {color: '#000', width: 2, type: [8, 5]}});
}
addPanel(pesoTrajetorias, pesoLowessMasc, pesoLowessFem, 0);
addPanel(alturaTrajetorias, alturaLowessMasc, alturaLowessFem, 1);

function yAxis(idx, min, max, name) {
  return {
    type: 'value', gridIndex: idx, min: min, max: max, name: name,
    nameLocation: 'middle', nameGap: 48, nameRotate: 90,
    nameTextStyle: {fontFamily: FONT, fontSize: 14, color: '#222'},
    splitLine: {show: false},
    axisLine: {show: true, onZero: false, lineStyle: {color: '#444', width: 1}},
    axisTick: {show: true, length: 7, lineStyle: {color: '#444'}, customValues: yTicks},
    axisLabel: {rotate: 90, margin: 12, fontFamily: FONT, fontSize: 14, color: '#222', customValues: yTicks}
  };
}
function xAxis(idx) {
  return {type: 'value', gridIndex: idx, min: -4, max: 104, show: false};
}

function legendGraphics(cx, lx1, lx2, tx, y1, y2, yT) {
  return [
    {type: 'text', style: {text: legendTitle, x: cx, y: yT, align: 'center', verticalAlign: 'middle', font: '14px ' + FONT, fill: '#222'}},
    {type: 'line', shape: {x1: lx1, y1: y1, x2: lx2, y2: y1}, style: {stroke: '#000', lineWidth: 2}},
    {type: 'line', shape: {x1: lx1, y1: y2, x2: lx2, y2: y2}, style: {stroke: '#000', lineWidth: 2, lineDash: [8, 5]}},
    {type: 'text', style: {text: sexos[0], x: tx, y: y1 + 2, align: 'left', verticalAlign: 'middle', font: '14px ' + FONT, fill: '#222'}},
    {type: 'text', style: {text: sexos[1], x: tx, y: y2 + 2, align: 'left', verticalAlign: 'middle', font: '14px ' + FONT, fill: '#222'}}
  ];
}

chart.setOption({
  animation: false,
  backgroundColor: '#fff',
  grid: [
    {left: 72, top: 55, right: 561, bottom: -4, show: true, borderColor: '#444', borderWidth: 1, containLabel: false},
    {left: 628, top: 55, right: -17, bottom: -4, show: true, borderColor: '#444', borderWidth: 1, containLabel: false}
  ],
  xAxis: [xAxis(0), xAxis(1)],
  yAxis: [yAxis(0, -6.57, 4.82, yNamePeso), yAxis(1, -7.45, 2.73, yNameAltura)],
  series: series,
  graphic: [
    {type: 'text', style: {text: chartTitle, x: 290, y: 22, align: 'center', verticalAlign: 'middle', font: 'bold 16.5px ' + FONT, fill: '#111'}},
    {type: 'text', style: {text: chartTitle, x: 850, y: 22, align: 'center', verticalAlign: 'middle', font: 'bold 16.5px ' + FONT, fill: '#111'}}
  ].concat(legendGraphics(350, 217, 292, 328, 95, 117, 72))
   .concat(legendGraphics(1018, 977, 1002, 1015, 89, 107, 67))
});
</script>
</body></html>
